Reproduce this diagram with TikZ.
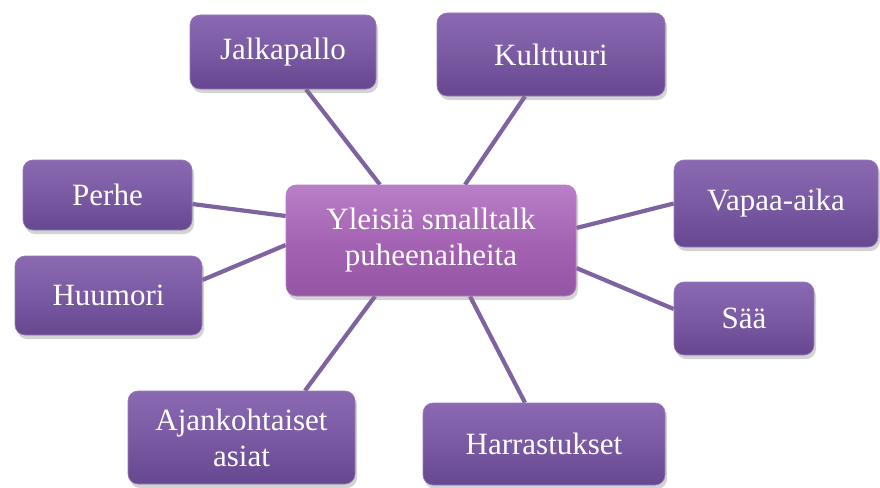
\documentclass[tikz,border=0pt]{standalone}
\usepackage{fontspec}
\setmainfont{Liberation Serif}
\usetikzlibrary{shadows,backgrounds}
\definecolor{boxtop}{HTML}{8A69B2}
\definecolor{boxmid}{HTML}{7A5AA2}
\definecolor{boxbot}{HTML}{664890}
\definecolor{ctop}{HTML}{B97FC7}
\definecolor{cmid}{HTML}{A464B3}
\definecolor{cbot}{HTML}{9455A4}
\definecolor{linkc}{HTML}{7F63A1}
\tikzset{
  topic/.style={rounded corners=10pt, inner sep=0pt, align=center,
    top color=boxtop, bottom color=boxbot, middle color=boxmid,
    draw=boxmid!80!white, line width=0.6pt, text=white,
    font=\fontsize{31}{36}\selectfont,
    drop shadow={opacity=0.35, shadow xshift=2pt, shadow yshift=-4pt}},
  hub/.style={topic, top color=ctop, bottom color=cbot, middle color=cmid,
    draw=cmid!80!white},
  link/.style={draw=linkc, line width=4.2pt}
}
\begin{document}
\begin{tikzpicture}[x=1pt,y=-1pt]
\useasboundingbox (0,0) rectangle (880,487);
\node[hub, minimum width=290pt, minimum height=111pt] (c) at (431,240.5) {Yleisiä smalltalk\\puheenaiheita};
\node[topic, minimum width=186pt, minimum height=74pt] (jal) at (283,52) {Jalkapallo};
\node[topic, minimum width=228pt, minimum height=83pt] (kul) at (551,54.5) {Kulttuuri};
\node[topic, minimum width=169pt, minimum height=70pt] (per) at (107.5,195) {Perhe};
\node[topic, minimum width=187pt, minimum height=79pt] (huu) at (108.5,295.5) {Huumori};
\node[topic, minimum width=204pt, minimum height=87pt] (vap) at (776,203.5) {Vapaa-aika};
\node[topic, minimum width=140pt, minimum height=73pt] (saa) at (744,318.5) {Sää};
\node[topic, minimum width=227pt, minimum height=93pt] (aja) at (241.5,437.5) {Ajankohtaiset\\asiat};
\node[topic, minimum width=242pt, minimum height=82pt] (har) at (544,444) {Harrastukset};
\begin{scope}[on background layer]
\draw[link] ([xshift=-51pt]c.north) -- ([xshift=23pt]jal.south);
\draw[link] ([xshift=34pt]c.north) -- ([xshift=-26pt]kul.south);
\draw[link] ([yshift=24.5pt]c.west) -- ([yshift=-9pt]per.east);
\draw[link] ([yshift=-4.5pt]c.west) -- ([yshift=15.5pt]huu.east);
\draw[link] ([yshift=12.5pt]c.east) -- (vap.west);
\draw[link] ([yshift=-27.5pt]c.east) -- ([yshift=9.5pt]saa.west);
\draw[link] ([xshift=-56pt]c.south) -- ([xshift=63.5pt]aja.north);
\draw[link] ([xshift=39pt]c.south) -- ([xshift=-19pt]har.north);
\end{scope}
\end{tikzpicture}
\end{document}
